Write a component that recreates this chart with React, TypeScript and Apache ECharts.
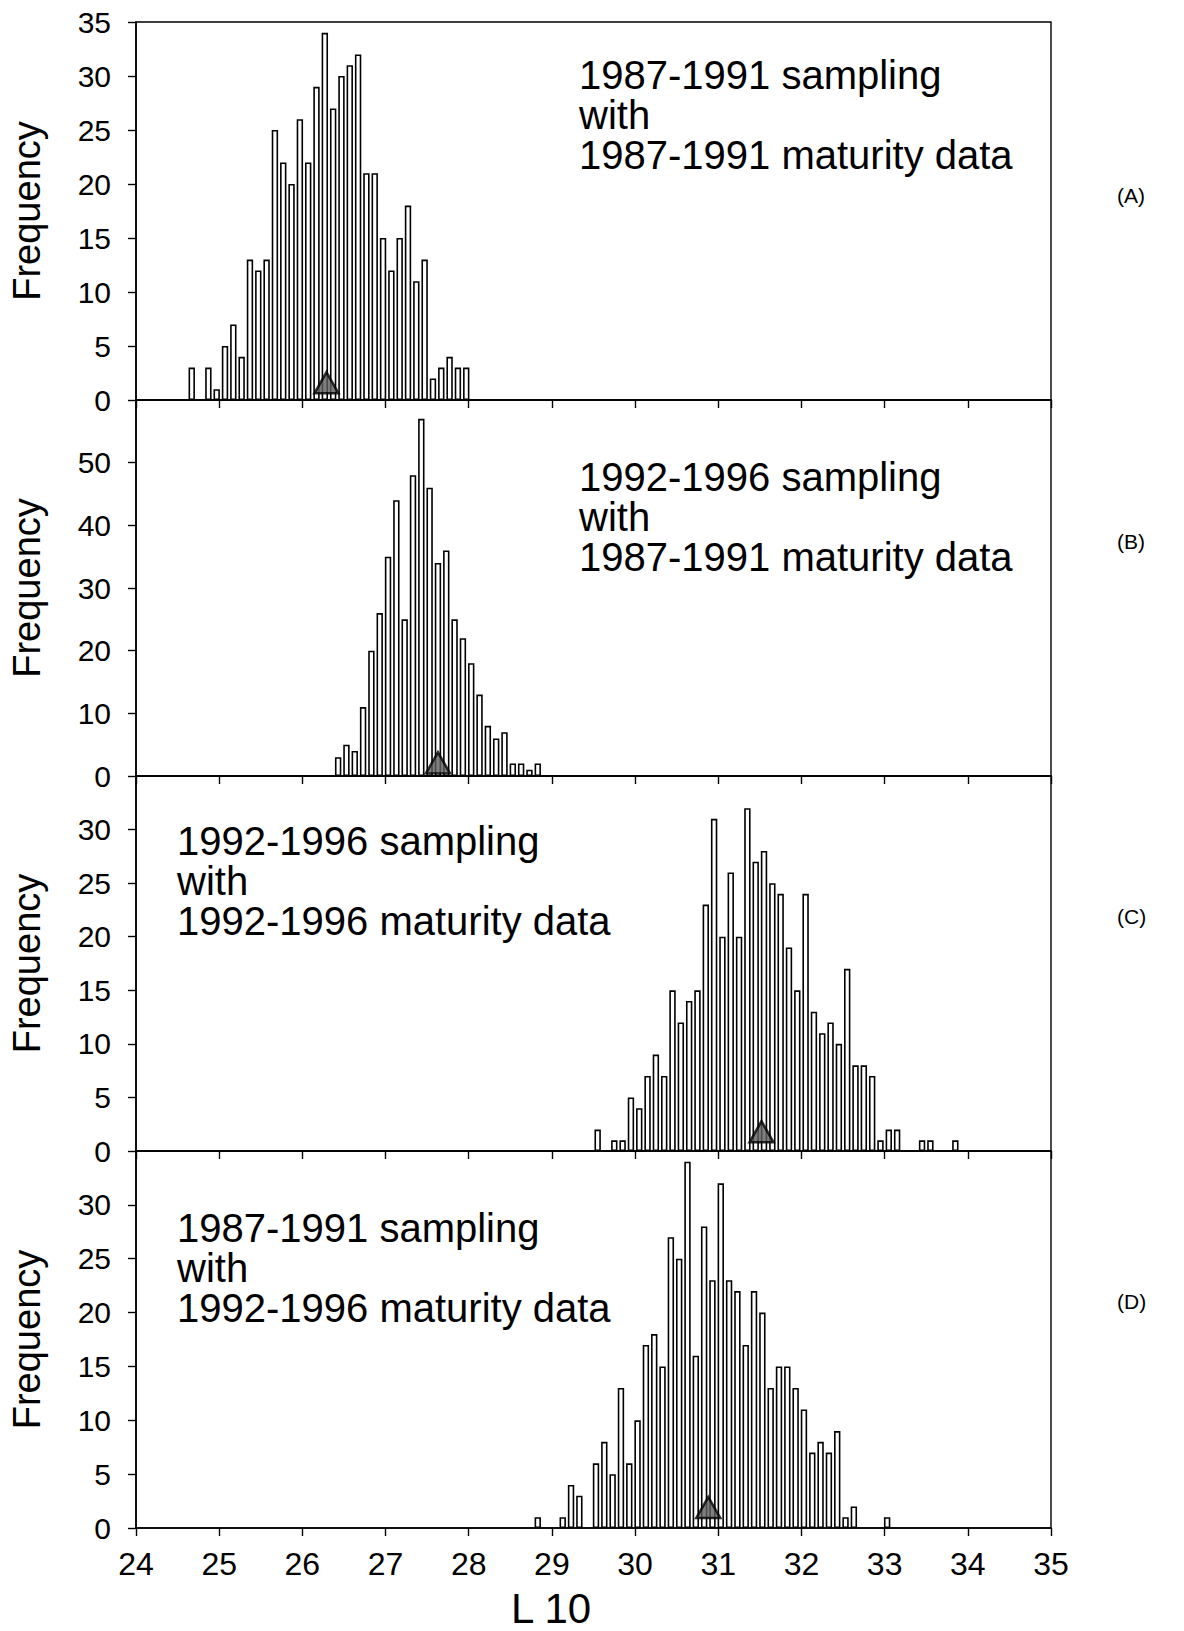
import React, { useEffect, useRef } from "react";
import * as echarts from "echarts";

// ---- data ----
const xTickValues = [24, 25, 26, 27, 28, 29, 30, 31, 32, 33, 34, 35];
const binWidth = 0.1;

const binStartA = 24.67;
const countsA = [3, 0, 3, 1, 5, 7, 4, 13, 12, 13, 25, 22, 20, 26, 22, 29, 34, 27, 30, 31, 32, 21, 21, 15, 12, 15, 18, 11, 13, 2, 3, 4, 3, 3];

const binStartB = 26.43;
const countsB = [3, 5, 4, 11, 20, 26, 35, 44, 25, 48, 57, 46, 34, 36, 25, 22, 18, 13, 8, 6, 7, 2, 2, 1, 2];

const binStartC = 29.55;
const countsC = [2, 0, 1, 1, 5, 4, 7, 9, 7, 15, 12, 14, 15, 23, 31, 20, 26, 20, 32, 27, 28, 25, 24, 19, 15, 24, 13, 11, 12, 10, 17, 8, 8, 7, 1, 2, 2, 0, 0, 1, 1, 0, 0, 1];

const binStartD = 28.83;
const countsD = [1, 0, 0, 1, 4, 3, 0, 6, 8, 5, 13, 6, 10, 17, 18, 15, 27, 25, 34, 16, 28, 23, 32, 23, 22, 17, 22, 20, 13, 15, 15, 13, 11, 7, 8, 7, 9, 1, 2, 0, 0, 0, 1];

const markerX = [26.29, 27.63, 31.52, 30.88];
const markerY = [1.6, 2.1, 1.8, 1.9];

const yMaxes = [35, 60, 35, 35];
const ySteps = [5, 10, 5, 5];

const panelTexts = [
  ["1987-1991 sampling", "with", "1987-1991 maturity data"],
  ["1992-1996 sampling", "with", "1987-1991 maturity data"],
  ["1992-1996 sampling", "with", "1992-1996 maturity data"],
  ["1987-1991 sampling", "with", "1992-1996 maturity data"],
];
const panelTags = ["(A)", "(B)", "(C)", "(D)"];
const yAxisTitle = "Frequency";
const xAxisTitle = "L 10";

// ---- layout (pixels) ----
const W = 1184;
const H = 1631;
const gridLeft = 133;
const gridRight = 133;
const gridTops = [22, 400, 776, 1151];
const gridHeights = [378, 376, 375, 377];
const textPos = [
  [579, 55],
  [579, 457],
  [177, 821],
  [177, 1208],
];
const tagPos = [195, 541, 916, 1301];

const NARROW = "'Liberation Sans Narrow', 'Arial Narrow', 'Liberation Sans', Arial, sans-serif";
const SANS = "'Liberation Sans', Arial, sans-serif";

const panels = [
  { start: binStartA, counts: countsA },
  { start: binStartB, counts: countsB },
  { start: binStartC, counts: countsC },
  { start: binStartD, counts: countsD },
];

export default function App() {
  const ref = useRef<HTMLDivElement>(null);

  useEffect(() => {
    if (!ref.current) return;
    const chart = echarts.init(ref.current, null, { renderer: "svg" });

    const grid = gridTops.map((t, i) => ({
      left: gridLeft,
      right: gridRight,
      top: t,
      height: gridHeights[i],
      show: true,
      borderColor: "#000",
      borderWidth: 1.4,
      backgroundColor: "transparent",
    }));

    const xAxis = gridTops.map((_, i) => ({
      type: "value",
      gridIndex: i,
      min: xTickValues[0],
      max: xTickValues[xTickValues.length - 1],
      interval: 1,
      splitLine: { show: false },
      axisLine: { show: true, onZero: false, lineStyle: { color: "#000", width: 1.6 } },
      axisTick: { show: true, inside: false, length: 8, lineStyle: { color: "#000", width: 1.4 } },
      axisLabel: {
        show: i === 3,
        color: "#000",
        fontFamily: NARROW,
        fontSize: 32,
        margin: 20,
      },
    }));

    const yAxis = gridTops.map((_, i) => ({
      type: "value",
      gridIndex: i,
      min: 0,
      max: yMaxes[i],
      interval: ySteps[i],
      splitLine: { show: false },
      name: yAxisTitle,
      nameLocation: "middle",
      nameGap: 90,
      nameTextStyle: { color: "#000", fontFamily: SANS, fontSize: 38 },
      axisLine: { show: true, lineStyle: { color: "#000", width: 1.6 } },
      axisTick: { show: true, inside: false, length: 8, lineStyle: { color: "#000", width: 1.4 } },
      axisLabel: {
        color: "#000",
        fontFamily: SANS,
        fontSize: 30,
        margin: 25,
        showMaxLabel: i === 0,
      },
    }));

    const series: any[] = [];
    panels.forEach((p, i) => {
      const data = p.counts
        .map((c, k) => [Math.round((p.start + k * binWidth) * 1000) / 1000, c])
        .filter((d) => d[1] > 0);
      series.push({
        type: "bar",
        xAxisIndex: i,
        yAxisIndex: i,
        data,
        barWidth: 6.4,
        itemStyle: { color: "#fff", borderColor: "#000", borderWidth: 1.6 },
        silent: true,
      });
      series.push({
        type: "scatter",
        xAxisIndex: i,
        yAxisIndex: i,
        data: [[markerX[i], markerY[i]]],
        symbol: "triangle",
        symbolSize: [24, 21],
        itemStyle: { color: "#5e5e5e", borderColor: "#000", borderWidth: 2.5 },
        z: 5,
        silent: true,
      });
    });

    const graphic: any[] = [];
    panelTexts.forEach((lines, i) => {
      graphic.push({
        type: "text",
        left: textPos[i][0],
        top: textPos[i][1],
        style: {
          text: lines.join("\n"),
          fill: "#000",
          fontFamily: SANS,
          fontSize: 40,
          lineHeight: 40,
        },
      });
      graphic.push({
        type: "text",
        x: 1117,
        y: tagPos[i],
        style: {
          text: panelTags[i],
          fill: "#000",
          fontFamily: SANS,
          fontSize: 21,
          verticalAlign: "middle",
        },
      });
    });
    graphic.push({
      type: "text",
      x: 551,
      y: 1608,
      style: {
        text: xAxisTitle,
        fill: "#000",
        fontFamily: NARROW,
        fontSize: 42,
        align: "center",
        verticalAlign: "middle",
      },
    });

    chart.setOption({
      animation: false,
      backgroundColor: "#fff",
      grid,
      xAxis,
      yAxis,
      series,
      graphic,
    });

    return () => chart.dispose();
  }, []);

  return (
    <div
      ref={ref}
      style={{ position: "absolute", left: 0, top: 0, width: W, height: H }}
    />
  );
}
